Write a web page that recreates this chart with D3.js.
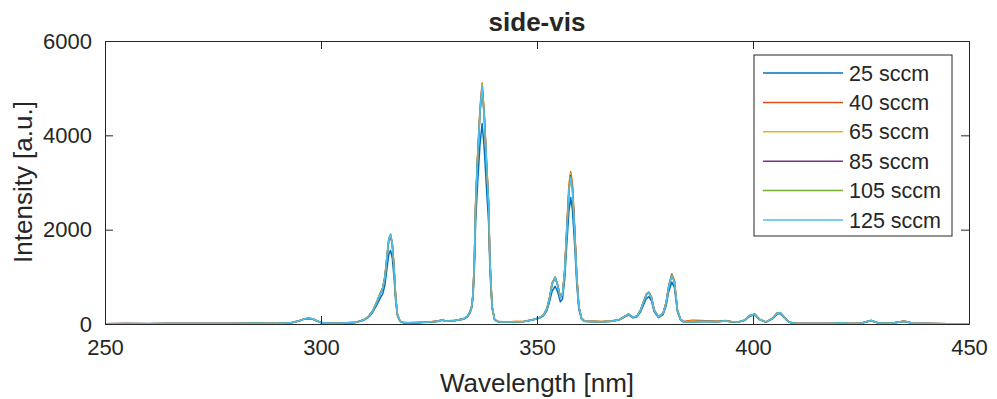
<!DOCTYPE html>
<html>
<head>
<meta charset="utf-8">
<script src="https://cdn.jsdelivr.net/npm/d3@7"></script>
<style>
  body { margin: 0; background: #fff; }
  text { font-family: "Liberation Sans", Arial, sans-serif; fill: #262626; }
</style>
</head>
<body>
<svg id="chart" width="997" height="399"></svg>
<script>
// wavelength grid [nm]
var wavelength = [
  250, 255, 260, 265, 270, 275, 280, 285, 290, 293,
  295, 296, 297, 298, 299, 300, 302, 305, 308, 310,
  311, 312, 313, 313.7, 314.3, 314.8, 315.3, 315.7, 316.1, 316.5,
  316.9, 317.3, 317.7, 318.3, 319, 320, 322, 325, 327, 328,
  329, 331, 333, 334, 334.5, 334.9, 335.2, 335.5, 335.8, 336.2,
  336.8, 337.3, 337.8, 338.3, 338.8, 339.1, 339.6, 340.2, 341, 343,
  345, 347, 349, 350.5, 351.5, 352.3, 352.9, 353.5, 354.2, 354.8,
  355.4, 355.9, 356.4, 356.9, 357.4, 357.8, 358.2, 358.7, 359.2, 359.7,
  360.3, 361, 363, 365, 367, 369, 370.3, 371.2, 372.2, 373.2,
  374.0, 374.6, 375.3, 375.9, 376.5, 377.1, 378.1, 379.2, 379.9, 380.5,
  381.2, 381.8, 382.5, 383.2, 384, 385, 386, 388, 390, 392,
  393.5, 395, 396.5, 398, 399.3, 400.4, 401.5, 403, 404.5, 405.6,
  406.3, 407.2, 408.3, 410, 413, 416, 419, 420.5, 422, 425,
  427.3, 429, 432, 435, 437, 440, 445, 450
];

var sccm25 = [
  6, 7, 8, 9, 10, 11, 12, 13, 14, 22,
  65, 100, 115, 105, 65, 28, 14, 18, 30, 80,
  145, 250, 420, 550, 640, 830, 1200, 1480, 1560, 1400,
  990, 460, 170, 55, 28, 22, 28, 38, 55, 80,
  58, 70, 100, 155, 235, 340, 560, 1150, 2150, 2900,
  3800, 4250, 3700, 2900, 2150, 1150, 330, 85, 48, 38,
  46, 52, 85, 120, 175, 285, 470, 700, 800, 680,
  470, 530, 930, 1700, 2400, 2680, 2420, 1700, 850, 300,
  105, 55, 50, 48, 55, 85, 150, 190, 130, 155,
  265, 395, 540, 580, 490, 265, 135, 200, 390, 690,
  890, 775, 260, 90, 36, 40, 42, 50, 48, 45,
  65, 45, 38, 72, 165, 195, 92, 38, 110, 210,
  220, 135, 38, 10, 8, 10, 14, 22, 10, 14,
  70, 18, 14, 55, 14, 8, 5, 5
];

var sccm40 = [
  4, 9, 7, 11, 9, 12, 11, 14, 13, 26,
  72, 108, 122, 112, 72, 32, 16, 21, 36, 92,
  165, 285, 490, 650, 770, 1010, 1460, 1790, 1880, 1700,
  1210, 560, 205, 62, 32, 26, 31, 42, 62, 87,
  62, 77, 112, 172, 265, 385, 660, 1370, 2590, 3500,
  4570, 5110, 4460, 3500, 2590, 1370, 380, 92, 52, 42,
  52, 57, 92, 132, 195, 330, 565, 870, 985, 830,
  570, 640, 1140, 2070, 2960, 3230, 2970, 2080, 1040, 365,
  125, 62, 57, 52, 62, 92, 162, 212, 142, 172,
  305, 460, 635, 675, 575, 310, 152, 235, 465, 825,
  1065, 930, 310, 105, 55, 70, 80, 75, 65, 60,
  72, 52, 42, 82, 182, 212, 102, 42, 122, 232,
  242, 152, 42, 12, 9, 11, 16, 26, 11, 16,
  76, 21, 16, 62, 16, 9, 6, 5
];

var sccm65 = [
  5, 8, 7, 10, 9, 13, 10, 15, 12, 25,
  71, 106, 121, 111, 71, 31, 15, 20, 35, 91,
  162, 282, 485, 645, 765, 1005, 1455, 1795, 1890, 1705,
  1205, 555, 202, 61, 31, 25, 30, 41, 61, 86,
  61, 76, 111, 171, 262, 382, 655, 1360, 2575, 3480,
  4550, 5090, 4440, 3480, 2575, 1360, 375, 91, 51, 41,
  51, 56, 91, 131, 192, 325, 560, 862, 995, 825,
  565, 630, 1125, 2050, 2930, 3200, 2940, 2060, 1030, 360,
  122, 61, 56, 51, 61, 91, 161, 211, 141, 171,
  302, 455, 630, 670, 568, 305, 151, 232, 460, 815,
  1050, 915, 305, 102, 45, 55, 62, 62, 58, 55,
  71, 51, 41, 81, 181, 211, 101, 41, 121, 231,
  241, 151, 41, 11, 8, 10, 15, 25, 10, 15,
  75, 20, 15, 61, 15, 8, 5, 5
];

var sccm85 = [
  6, 8, 6, 9, 8, 12, 10, 14, 12, 24,
  69, 104, 119, 109, 69, 30, 15, 20, 34, 89,
  158, 278, 476, 638, 756, 995, 1440, 1780, 1870, 1690,
  1190, 545, 198, 60, 30, 24, 29, 40, 60, 84,
  60, 74, 109, 169, 258, 376, 645, 1335, 2520, 3420,
  4470, 5030, 4380, 3420, 2520, 1335, 368, 89, 50, 40,
  50, 55, 89, 129, 189, 318, 548, 845, 985, 815,
  558, 615, 1095, 1990, 2840, 3150, 2880, 2020, 1010, 352,
  119, 60, 55, 50, 60, 89, 159, 209, 139, 169,
  298, 448, 615, 665, 556, 298, 149, 228, 448, 795,
  1040, 895, 298, 99, 40, 46, 48, 56, 56, 51,
  70, 50, 40, 80, 179, 209, 99, 40, 119, 229,
  239, 149, 40, 10, 8, 10, 15, 24, 10, 15,
  74, 20, 15, 60, 15, 8, 5, 5
];

var sccm105 = [
  5, 7, 6, 10, 8, 12, 11, 14, 13, 25,
  70, 104, 120, 110, 70, 30, 15, 20, 35, 90,
  160, 282, 482, 648, 765, 1005, 1460, 1810, 1910, 1710,
  1205, 552, 201, 60, 30, 25, 30, 40, 60, 85,
  60, 75, 110, 170, 258, 378, 648, 1340, 2525, 3415,
  4450, 5000, 4360, 3415, 2525, 1340, 368, 90, 50, 40,
  50, 55, 90, 130, 191, 322, 556, 860, 1000, 828,
  562, 622, 1098, 1985, 2830, 3120, 2860, 2010, 1005, 352,
  120, 60, 55, 50, 60, 90, 160, 210, 140, 170,
  300, 450, 622, 668, 562, 300, 150, 230, 452, 802,
  1035, 900, 300, 100, 40, 45, 46, 55, 55, 50,
  70, 50, 40, 80, 180, 210, 100, 40, 120, 230,
  240, 150, 40, 10, 8, 10, 15, 25, 10, 15,
  75, 20, 15, 60, 15, 8, 5, 5
];

var sccm125 = [
  5, 8, 6, 10, 8, 12, 10, 15, 12, 25,
  70, 105, 120, 110, 70, 30, 15, 20, 35, 90,
  160, 280, 480, 640, 760, 1000, 1450, 1800, 1900, 1700,
  1200, 550, 200, 60, 30, 25, 30, 40, 60, 85,
  60, 75, 110, 170, 260, 380, 650, 1350, 2550, 3450,
  4500, 5050, 4400, 3450, 2550, 1350, 370, 90, 50, 40,
  50, 55, 90, 130, 190, 320, 550, 850, 990, 820,
  560, 620, 1100, 2000, 2850, 3100, 2850, 2000, 1000, 350,
  120, 60, 55, 50, 60, 90, 160, 210, 140, 170,
  300, 450, 620, 660, 560, 300, 150, 230, 450, 800,
  1030, 900, 300, 100, 40, 45, 45, 55, 55, 50,
  70, 50, 40, 80, 180, 210, 100, 40, 120, 230,
  240, 150, 40, 10, 8, 10, 15, 25, 10, 15,
  75, 20, 15, 60, 15, 8, 5, 5
];

var seriesNames = ["25 sccm", "40 sccm", "65 sccm", "85 sccm", "105 sccm", "125 sccm"];
var seriesValues = [sccm25, sccm40, sccm65, sccm85, sccm105, sccm125];
var seriesColors = ["#0072BD", "#D95319", "#EDB120", "#7E2F8E", "#77AC30", "#4DBEEE"];

var xTicks = [250, 300, 350, 400, 450];
var yTicks = [0, 2000, 4000, 6000];

var svg = d3.select("#chart"),
  margin = { top: 41, right: 28, bottom: 75, left: 105 },
  width = +svg.attr("width") - margin.left - margin.right,
  height = +svg.attr("height") - margin.top - margin.bottom,
  g = svg.append("g").attr("transform", "translate(" + margin.left + "," + margin.top + ")");

var x = d3.scaleLinear().domain([250, 450]).range([0, width]);
var y = d3.scaleLinear().domain([0, 6000]).range([height, 0]);

var axisColor = "#262626";
var tickLen = 8;

// clip so lines stay in the box
g.append("clipPath").attr("id", "clip")
  .append("rect").attr("width", width).attr("height", height);

var line = d3.line()
  .x(function(d) { return x(d[0]); })
  .y(function(d) { return y(d[1]); });

g.append("g").attr("clip-path", "url(#clip)")
  .selectAll("path")
  .data(seriesValues)
  .enter().append("path")
  .attr("fill", "none")
  .attr("stroke", function(d, i) { return seriesColors[i]; })
  .attr("stroke-width", 1.5)
  .attr("stroke-linejoin", "round")
  .attr("d", function(vals) {
    return line(wavelength.map(function(w, i) { return [w, vals[i]]; }));
  });

// axes, MATLAB style: ticks inward, box on
function styleAxis(sel) {
  sel.select(".domain").attr("stroke", axisColor).attr("stroke-width", 1);
  sel.selectAll(".tick line").attr("stroke", axisColor);
  sel.selectAll("text").attr("fill", axisColor).style("font-size", "22px")
    .style("font-family", "'Liberation Sans', Arial, sans-serif");
}

g.append("g")
  .attr("transform", "translate(0," + height + ")")
  .call(d3.axisBottom(x).tickValues(xTicks).tickSizeInner(-tickLen).tickSizeOuter(0).tickPadding(15).tickFormat(d3.format("d")))
  .call(styleAxis);

g.append("g")
  .call(d3.axisTop(x).tickValues(xTicks).tickSizeInner(-tickLen).tickSizeOuter(0).tickFormat(""))
  .call(styleAxis);

g.append("g")
  .call(d3.axisLeft(y).tickValues(yTicks).tickSizeInner(-tickLen).tickSizeOuter(0).tickPadding(13).tickFormat(d3.format("d")))
  .call(styleAxis);

g.append("g")
  .attr("transform", "translate(" + width + ",0)")
  .call(d3.axisRight(y).tickValues(yTicks).tickSizeInner(-tickLen).tickSizeOuter(0).tickFormat(""))
  .call(styleAxis);

// title and axis labels
svg.append("text")
  .attr("x", margin.left + width / 2)
  .attr("y", 31)
  .attr("text-anchor", "middle")
  .style("font-size", "26px")
  .style("font-weight", "bold")
  .text("side-vis");

svg.append("text")
  .attr("x", margin.left + width / 2)
  .attr("y", 392)
  .attr("text-anchor", "middle")
  .style("font-size", "26px")
  .text("Wavelength [nm]");

svg.append("text")
  .attr("transform", "translate(32,182) rotate(-90)")
  .attr("text-anchor", "middle")
  .style("font-size", "26px")
  .text("Intensity [a.u.]");

// legend
var legend = svg.append("g").attr("transform", "translate(754,55)");

legend.append("rect")
  .attr("width", 198)
  .attr("height", 181)
  .attr("fill", "#fff")
  .attr("stroke", axisColor)
  .attr("stroke-width", 1);

var rows = legend.selectAll(".row")
  .data(seriesNames)
  .enter().append("g")
  .attr("class", "row")
  .attr("transform", function(d, i) { return "translate(0," + (18 + i * 29.4) + ")"; });

rows.append("line")
  .attr("x1", 9).attr("x2", 89)
  .attr("stroke", function(d, i) { return seriesColors[i]; })
  .attr("stroke-width", 1.5);

rows.append("text")
  .attr("x", 95)
  .attr("dy", "0.35em")
  .style("font-size", "21.5px")
  .text(function(d) { return d; });
</script>
</body>
</html>
